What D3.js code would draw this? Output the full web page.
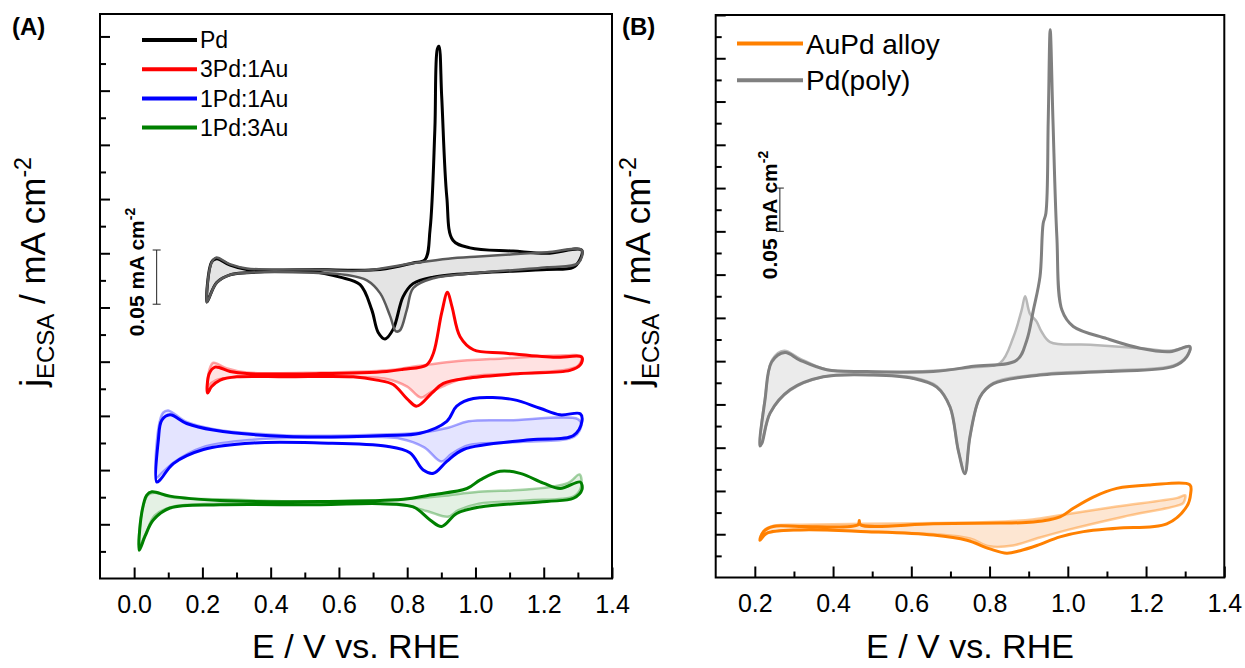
<!DOCTYPE html>
<html>
<head>
<meta charset="utf-8">
<script src="https://cdn.jsdelivr.net/npm/d3@7"></script>
<style>
body { margin: 0; background: #fff; }
text { font-family: Arial, "Liberation Sans", sans-serif; fill: #000; }
</style>
</head>
<body>
<svg id="chart" width="1245" height="668"></svg>
<script>
// ---- data: [E (V vs RHE), j (mA cm-2, offset as plotted)] ----
// panel A
const pdBold = [[0.213,0.255],[0.227,0.292],[0.242,0.295],[0.281,0.289],[0.330,0.285],[0.524,0.285],[0.720,0.285],[0.817,0.291],[0.852,0.294],[0.867,0.322],[0.881,0.414],[0.888,0.488],[0.893,0.491],[0.901,0.445],[0.916,0.352],[0.934,0.312],[0.984,0.305],[1.110,0.302],[1.209,0.300],[1.311,0.303],[1.306,0.294],[1.286,0.287],[1.209,0.285],[1.013,0.282],[0.876,0.278],[0.817,0.272],[0.788,0.260],[0.759,0.230],[0.735,0.221],[0.715,0.227],[0.696,0.248],[0.662,0.271],[0.603,0.278],[0.524,0.283],[0.330,0.282],[0.281,0.280],[0.242,0.273],[0.217,0.257]];
const pdLight = [[0.213,0.255],[0.225,0.290],[0.240,0.296],[0.280,0.290],[0.330,0.286],[0.520,0.285],[0.670,0.284],[0.820,0.291],[0.920,0.295],[1.010,0.297],[1.110,0.299],[1.210,0.301],[1.311,0.303],[1.301,0.291],[1.210,0.287],[1.010,0.282],[0.877,0.277],[0.818,0.268],[0.799,0.248],[0.779,0.229],[0.767,0.228],[0.750,0.242],[0.721,0.263],[0.682,0.275],[0.623,0.280],[0.525,0.282],[0.330,0.282],[0.280,0.280],[0.242,0.273],[0.217,0.257]];
const pd3au1Bold = [[0.215,0.171],[0.220,0.189],[0.237,0.195],[0.281,0.191],[0.330,0.189],[0.545,0.189],[0.740,0.191],[0.789,0.193],[0.857,0.197],[0.877,0.208],[0.901,0.245],[0.918,0.264],[0.931,0.251],[0.955,0.223],[0.994,0.211],[1.082,0.208],[1.228,0.204],[1.312,0.204],[1.307,0.197],[1.277,0.192],[1.131,0.189],[0.984,0.185],[0.906,0.180],[0.872,0.171],[0.828,0.159],[0.799,0.166],[0.759,0.179],[0.711,0.183],[0.642,0.186],[0.447,0.186],[0.301,0.186],[0.252,0.183],[0.227,0.177]];
const pd3au1Light = [[0.214,0.172],[0.220,0.192],[0.232,0.199],[0.270,0.194],[0.330,0.190],[0.550,0.190],[0.740,0.192],[0.830,0.196],[0.930,0.200],[1.080,0.203],[1.270,0.206],[1.310,0.205],[1.300,0.196],[1.180,0.190],[0.980,0.186],[0.910,0.178],[0.870,0.172],[0.840,0.167],[0.800,0.177],[0.740,0.184],[0.600,0.186],[0.300,0.186],[0.240,0.183],[0.220,0.178]];
const pd1au1Bold = [[0.066,0.089],[0.071,0.128],[0.081,0.146],[0.105,0.151],[0.154,0.143],[0.232,0.137],[0.447,0.131],[0.740,0.132],[0.838,0.134],[0.916,0.145],[0.945,0.159],[0.994,0.166],[1.111,0.165],[1.189,0.157],[1.248,0.151],[1.307,0.152],[1.312,0.145],[1.287,0.132],[1.160,0.128],[0.965,0.119],[0.916,0.108],[0.877,0.097],[0.847,0.100],[0.808,0.116],[0.740,0.122],[0.545,0.125],[0.349,0.125],[0.203,0.119],[0.115,0.106],[0.076,0.091]];
const pd1au1Light = [[0.066,0.093],[0.072,0.140],[0.085,0.153],[0.100,0.155],[0.150,0.145],[0.230,0.138],[0.450,0.132],[0.740,0.133],[0.850,0.135],[0.920,0.139],[0.980,0.145],[1.100,0.146],[1.300,0.147],[1.310,0.142],[1.290,0.131],[1.130,0.126],[0.980,0.123],[0.930,0.115],[0.900,0.108],[0.850,0.121],[0.780,0.129],[0.550,0.130],[0.350,0.128],[0.200,0.121],[0.120,0.108],[0.080,0.097]];
const pd1au3Bold = [[0.015,0.026],[0.022,0.060],[0.037,0.077],[0.052,0.080],[0.105,0.076],[0.252,0.072],[0.545,0.071],[0.789,0.073],[0.867,0.077],[0.975,0.083],[1.014,0.091],[1.072,0.099],[1.131,0.097],[1.199,0.088],[1.248,0.083],[1.307,0.089],[1.312,0.082],[1.287,0.074],[1.209,0.071],[1.014,0.066],[0.945,0.060],[0.901,0.048],[0.867,0.054],[0.818,0.066],[0.721,0.069],[0.545,0.068],[0.252,0.068],[0.105,0.065],[0.056,0.054],[0.032,0.039]];
const pd1au3Light = [[0.015,0.030],[0.025,0.065],[0.040,0.077],[0.060,0.079],[0.110,0.075],[0.250,0.073],[0.550,0.071],[0.790,0.073],[0.900,0.076],[1.010,0.080],[1.150,0.082],[1.270,0.088],[1.305,0.096],[1.310,0.085],[1.290,0.076],[1.150,0.072],[1.010,0.069],[0.950,0.063],[0.920,0.057],[0.860,0.062],[0.800,0.067],[0.720,0.069],[0.550,0.069],[0.250,0.069],[0.110,0.066],[0.060,0.058],[0.035,0.042]];
// panel B
const polyBold = [[0.213,0.152],[0.226,0.205],[0.243,0.249],[0.277,0.260],[0.316,0.251],[0.384,0.240],[0.486,0.238],[0.656,0.238],[0.759,0.244],[0.869,0.251],[0.895,0.274],[0.912,0.309],[0.929,0.348],[0.937,0.409],[0.944,0.421],[0.950,0.529],[0.955,0.633],[0.962,0.529],[0.972,0.394],[0.985,0.309],[1.014,0.290],[1.100,0.276],[1.185,0.265],[1.261,0.261],[1.312,0.267],[1.304,0.255],[1.270,0.244],[1.100,0.238],[0.929,0.234],[0.810,0.224],[0.776,0.209],[0.750,0.163],[0.737,0.120],[0.720,0.147],[0.699,0.197],[0.665,0.220],[0.605,0.230],[0.503,0.234],[0.375,0.232],[0.290,0.217],[0.239,0.190],[0.218,0.155]];
const polyLight = [[0.213,0.152],[0.226,0.207],[0.245,0.252],[0.275,0.262],[0.315,0.253],[0.384,0.240],[0.486,0.238],[0.656,0.239],[0.760,0.243],[0.827,0.248],[0.861,0.278],[0.882,0.309],[0.891,0.325],[0.903,0.305],[0.920,0.296],[0.933,0.284],[0.955,0.272],[1.057,0.269],[1.185,0.265],[1.260,0.262],[1.312,0.266],[1.304,0.256],[1.270,0.245],[1.100,0.239],[0.930,0.235],[0.810,0.225],[0.776,0.209],[0.750,0.163],[0.737,0.121],[0.720,0.147],[0.699,0.197],[0.665,0.221],[0.605,0.231],[0.503,0.234],[0.375,0.232],[0.290,0.216],[0.239,0.190],[0.218,0.156]];
const alloyBold = [[0.213,0.043],[0.222,0.053],[0.247,0.059],[0.316,0.059],[0.464,0.061],[0.467,0.066],[0.470,0.061],[0.656,0.062],[0.827,0.063],[0.912,0.064],[0.980,0.070],[1.014,0.080],[1.065,0.093],[1.125,0.103],[1.210,0.107],[1.312,0.107],[1.314,0.097],[1.304,0.082],[1.253,0.062],[1.125,0.057],[1.040,0.053],[0.980,0.047],[0.921,0.037],[0.878,0.031],[0.844,0.028],[0.801,0.033],[0.742,0.043],[0.656,0.049],[0.486,0.053],[0.316,0.055],[0.230,0.051]];
const alloyLight = [[0.213,0.045],[0.225,0.055],[0.250,0.060],[0.320,0.061],[0.470,0.062],[0.660,0.063],[0.800,0.064],[0.910,0.067],[0.980,0.072],[1.125,0.082],[1.280,0.092],[1.300,0.095],[1.295,0.086],[1.280,0.083],[1.140,0.070],[1.000,0.055],[0.920,0.045],[0.860,0.037],[0.800,0.036],[0.750,0.045],[0.660,0.050],[0.490,0.053],[0.320,0.055],[0.230,0.051]];

const xTicksA = [0.0, 0.2, 0.4, 0.6, 0.8, 1.0, 1.2, 1.4];
const xMinorA = [0.1, 0.3, 0.5, 0.7, 0.9, 1.1, 1.3];
const xTicksB = [0.2, 0.4, 0.6, 0.8, 1.0, 1.2, 1.4];
const xMinorB = [0.3, 0.5, 0.7, 0.9, 1.1, 1.3];
const legendA = ["Pd", "3Pd:1Au", "1Pd:1Au", "1Pd:3Au"];
const legendB = ["AuPd alloy", "Pd(poly)"];

const svg = d3.select("#chart");

function drawPanel(p) {
    const x = d3.scaleLinear().domain(p.xDomain).range([p.left, p.right]);
    const y = d3.scaleLinear().domain(p.yDomain).range([p.bottom, p.top]);
    const g = svg.append("g");
    const loop = d3.line()
        .x(d => x(d[0]))
        .y(d => y(d[1]))
        .curve(d3.curveCatmullRomClosed.alpha(0.5));

    // curves, drawn layer by layer
    p.layers.forEach(l => {
        g.append("path")
            .attr("d", loop(l.data))
            .attr("fill", l.fill || "none")
            .attr("stroke", l.stroke || "none")
            .attr("stroke-opacity", l.opacity == null ? 1 : l.opacity)
            .attr("stroke-width", l.width || 0)
            .attr("stroke-linejoin", "round");
    });

    // y ticks (no labels), inside
    const yt = d3.range(1, Math.floor(p.yDomain[1] / 0.025 + 1e-6) + 1);
    g.append("g")
        .attr("transform", `translate(${p.left},0)`)
        .call(d3.axisLeft(y).tickValues(yt.map(i => i * 0.025)).tickFormat("")
            .tickSize(0))
        .call(a => a.select(".domain").remove())
        .selectAll(".tick line")
        .attr("x2", (d, i) => (yt[i] % 2 === 0 ? 10 : 6))
        .attr("stroke-width", 2);

    // x ticks, inside
    g.append("g")
        .attr("transform", `translate(0,${p.bottom})`)
        .call(d3.axisBottom(x).tickValues(p.xTicks).tickSize(-11).tickPadding(17)
            .tickFormat(d3.format(".1f")))
        .call(a => a.select(".domain").remove())
        .call(a => a.selectAll(".tick line").attr("stroke-width", 2))
        .call(a => a.selectAll("text").attr("font-size", 25).attr("font-family", "Arial, 'Liberation Sans', sans-serif"));
    g.append("g")
        .attr("transform", `translate(0,${p.bottom})`)
        .call(d3.axisBottom(x).tickValues(p.xMinor).tickSize(-6).tickFormat(""))
        .call(a => a.select(".domain").remove())
        .selectAll(".tick line").attr("stroke-width", 2);

    // frame
    g.append("rect")
        .attr("x", p.left).attr("y", p.top)
        .attr("width", p.right - p.left).attr("height", p.bottom - p.top)
        .attr("fill", "none").attr("stroke", "#000").attr("stroke-width", 2);

    // panel label
    g.append("text").attr("x", p.labelX).attr("y", 35)
        .attr("font-size", 24).attr("font-weight", "bold").text(p.label);

    // x title
    g.append("text").attr("x", (p.left + p.right) / 2).attr("y", 658)
        .attr("text-anchor", "middle").attr("font-size", 34).text("E / V vs. RHE");

    // y title
    const ytl = g.append("text")
        .attr("transform", `translate(${p.yTitleX},272) rotate(-90)`)
        .attr("text-anchor", "middle").attr("font-size", 35);
    ytl.append("tspan").text("j");
    ytl.append("tspan").attr("font-size", 24).attr("dy", 9).text("ECSA");
    ytl.append("tspan").attr("dy", -9).text(" / mA cm");
    ytl.append("tspan").attr("font-size", 23).attr("dy", -14).text("-2");

    // scale bar
    const sb = p.scaleBar;
    const sx = x(sb.e), sy0 = y(sb.j), sy1 = y(sb.j + 0.05);
    g.append("line").attr("x1", sx).attr("x2", sx).attr("y1", sy0).attr("y2", sy1)
        .attr("stroke", "#222").attr("stroke-width", 1);
    [sy0, sy1].forEach(v => g.append("line").attr("x1", sx - 4).attr("x2", sx + 4)
        .attr("y1", v).attr("y2", v).attr("stroke", "#222").attr("stroke-width", 1));
    const st = g.append("text")
        .attr("transform", `translate(${sb.textX},${sb.textY}) rotate(-90)`)
        .attr("text-anchor", "middle").attr("font-size", 21).attr("font-weight", "bold");
    st.append("tspan").text("0.05 mA cm");
    st.append("tspan").attr("font-size", 14).attr("dy", -9).text("-2");

    // legend
    p.legend.forEach((name, i) => {
        const ly = p.legendY + i * p.legendGap;
        g.append("line").attr("x1", p.legendX).attr("x2", p.legendX + p.legendLen)
            .attr("y1", ly).attr("y2", ly)
            .attr("stroke", p.legendColors[i]).attr("stroke-width", 4);
        g.append("text").attr("x", p.legendX + p.legendLen + 3).attr("y", ly)
            .attr("dy", "0.36em").attr("font-size", p.legendSize).text(name);
    });
}

drawPanel({
    left: 100, right: 612, top: 14, bottom: 578.5,
    xDomain: [-0.1, 1.4], yDomain: [0, 0.5207],
    xTicks: xTicksA, xMinor: xMinorA,
    label: "(A)", labelX: 12, yTitleX: 45,
    scaleBar: {e: 0.066, j: 0.253, textX: 144, textY: 272},
    legend: legendA, legendColors: ["#000", "#ff0000", "#0000ff", "#008000"],
    legendX: 142, legendLen: 55, legendY: 40, legendGap: 29.2, legendSize: 23,
    layers: [
        {data: pdLight, fill: "#e4e4e4"},
        {data: pdBold, stroke: "#000", width: 3},
        {data: pdLight, stroke: "#5a5a5a", width: 2.5},
        {data: pd3au1Light, fill: "#ffe2e2"},
        {data: pd3au1Light, stroke: "#ff0000", width: 2.5, opacity: 0.35},
        {data: pd3au1Bold, stroke: "#ff0000", width: 3},
        {data: pd1au1Light, fill: "#e4e4ff"},
        {data: pd1au1Light, stroke: "#0000ff", width: 2.5, opacity: 0.35},
        {data: pd1au1Bold, stroke: "#0000ff", width: 3},
        {data: pd1au3Light, fill: "#e4f1e4"},
        {data: pd1au3Light, stroke: "#008000", width: 2.5, opacity: 0.35},
        {data: pd1au3Bold, stroke: "#008000", width: 3}
    ]
});

drawPanel({
    left: 715.7, right: 1224.3, top: 15, bottom: 577.5,
    xDomain: [0.1, 1.4], yDomain: [0, 0.65],
    xTicks: xTicksB, xMinor: xMinorB,
    label: "(B)", labelX: 622, yTitleX: 650,
    scaleBar: {e: 0.264, j: 0.40, textX: 777, textY: 215},
    legend: legendB, legendColors: ["#ff8000", "#808080"],
    legendX: 737, legendLen: 66, legendY: 43.5, legendGap: 36.7, legendSize: 28,
    layers: [
        {data: polyLight, fill: "#ebebeb"},
        {data: polyLight, stroke: "#b8b8b8", width: 2.5},
        {data: polyBold, stroke: "#808080", width: 3},
        {data: alloyLight, fill: "#fde6d2"},
        {data: alloyLight, stroke: "#ff8000", width: 2.5, opacity: 0.4},
        {data: alloyBold, stroke: "#ff8000", width: 3}
    ]
});
</script>
</body>
</html>
